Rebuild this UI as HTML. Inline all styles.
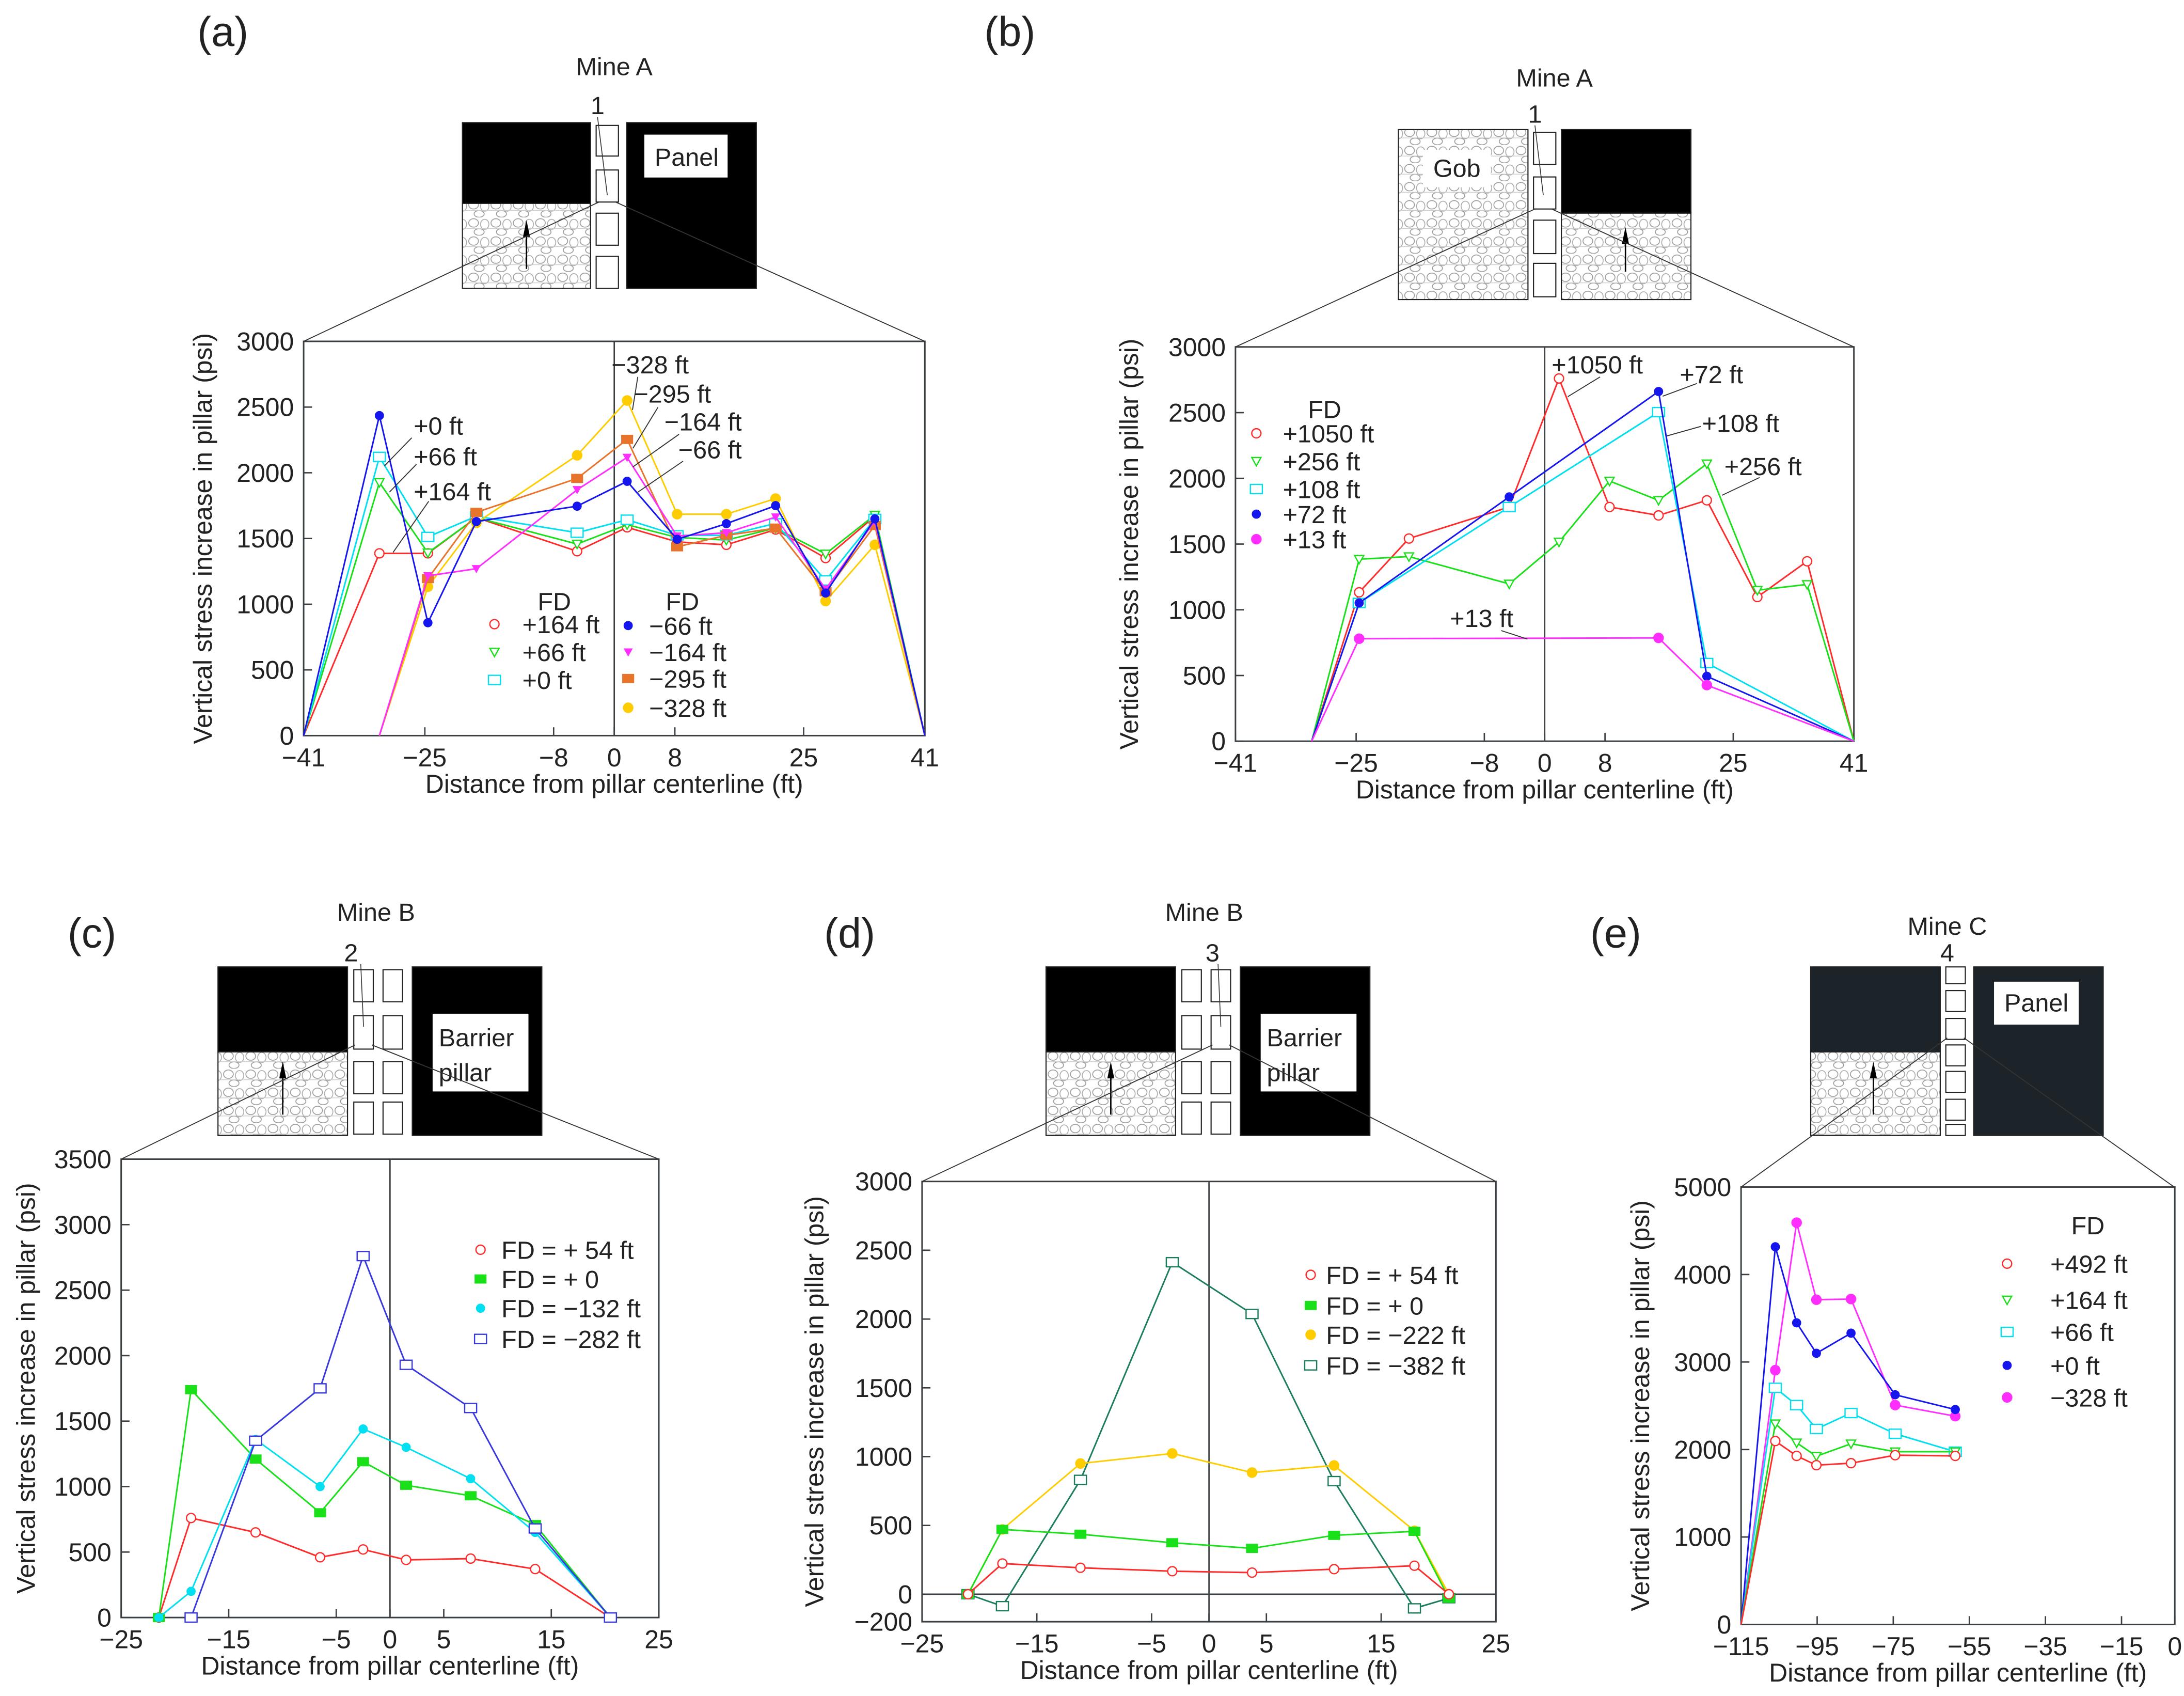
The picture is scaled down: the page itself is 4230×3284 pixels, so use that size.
<!DOCTYPE html>
<html><head><meta charset="utf-8"><style>
html,body{margin:0;padding:0;background:#fff;}
svg{display:block;}
text{font-family:"Liberation Sans",Arial,sans-serif;fill:#222;}
</style></head><body>
<svg id="fig" xmlns="http://www.w3.org/2000/svg" width="4230" height="3284" viewBox="0 0 1568 1217.3">
<defs>
<pattern id="gob" width="16" height="13" patternUnits="userSpaceOnUse">
<rect width="16" height="13" fill="#fff"/>
<ellipse cx="4" cy="4" rx="3.5" ry="3" fill="none" stroke="#999" stroke-width="0.6"/>
<ellipse cx="12" cy="5" rx="3" ry="3.6" fill="none" stroke="#aaa" stroke-width="0.6"/>
<ellipse cx="8" cy="10.5" rx="3.6" ry="2.4" fill="none" stroke="#999" stroke-width="0.6"/>
<line x1="0" y1="8" x2="16" y2="8" stroke="#ccc" stroke-width="0.5"/>
</pattern>
</defs>
</svg>
<script>
// ---------- Panel (a) data ----------
const aX = [-41,-31,-24.6,-18.2,-4.9,1.7,8.3,14.8,21.3,27.9,34.4,41];
const aXlate = [-31,-24.6,-18.2,-4.9,1.7,8.3,14.8,21.3,27.9,34.4,41];
const aP164 = [0,1387,1387,1659,1403,1585,1474,1452,1568,1351,1669,0];
const aP66 = [0,1927,1391,1659,1458,1605,1508,1488,1579,1383,1679,0];
const aP0 = [0,2121,1512,1669,1544,1643,1524,1524,1615,1181,1649,0];
const aM66 = [0,2435,859,1629,1746,1935,1494,1613,1750,1085,1649,0];
const aM164 = [0,1216,1270,1871,2117,1518,1544,1663,1115,1633,0];
const aM295 = [0,1195,1699,1957,2254,1437,1524,1579,1095,1599,0];
const aM328 = [0,1133,1619,2133,2550,1685,1685,1804,1024,1452,0];
const abXTicks = [-41,-25,-8,0,8,25,41];
const abYTicks = [0,500,1000,1500,2000,2500,3000];
// ---------- Panel (b) data ----------
const bX = [-30.9,-24.6,-18,-4.7,1.9,8.6,15.1,21.5,28.2,34.8,41];
const b1050 = [0,1133,1542,1782,2760,1782,1718,1833,1097,1369,0];
const b256 = [0,1385,1405,1197,1516,1980,1833,2111,1149,1193,0];
const b108X = [-30.9,-24.6,-4.7,15.1,21.5,41];
const b108 = [0,1052,1782,2504,595,0];
const b72 = [0,1052,1859,2661,494,0];
const b13X = [-30.9,-24.6,15.1,21.5,41];
const b13 = [0,780,786,427,0];
// ---------- Panel (c) data ----------
const cX = [-21.5,-18.5,-12.5,-6.5,-2.5,1.5,7.5,13.5,20.5];
const c54 = [0,760,650,460,520,440,450,370,0];
const c0 = [0,1740,1210,800,1190,1010,930,710,0];
const c132 = [0,200,1360,1000,1440,1300,1060,650,0];
const c282X = [-18.5,-12.5,-6.5,-2.5,1.5,7.5,13.5,20.5];
const c282 = [0,1350,1750,2760,1930,1600,680,0];
const cdXTicks = [-25,-15,-5,0,5,15,25];
const cYTicks = [0,500,1000,1500,2000,2500,3000,3500];
// ---------- Panel (d) data ----------
const dX = [-21,-18,-11.2,-3.2,3.75,10.9,17.9,20.9];
const d54 = [0,223,192,167,157,182,207,0];
const d0 = [0,471,436,374,333,428,457,-29];
const d222 = [0,471,950,1023,884,936,461,0];
const d382 = [0,-87,831,2413,2037,822,-103,-29];
const dYTicks = [-200,0,500,1000,1500,2000,2500,3000];
// ---------- Panel (e) data ----------
const eX = [-115,-106,-100.4,-95.2,-86.1,-74.5,-58.7];
const e492 = [0,2097,1927,1821,1844,1935,1927];
const e164 = [0,2295,2077,1923,2066,1975,1975];
const e66 = [0,2705,2508,2235,2417,2180,1975];
const e0 = [0,4317,3448,3100,3330,2626,2457];
const e328 = [0,2907,4593,3712,3720,2508,2381];
const eXTicks = [-115,-95,-75,-55,-35,-15,-1];
const eXLabels = ["−115","−95","−75","−55","−35","−15","0"];
const eYTicks = [0,1000,2000,3000,4000,5000];

const NS = 'http://www.w3.org/2000/svg';
const svg = document.getElementById('fig');
function mk(tag, attrs, parent){
  const e = document.createElementNS(NS, tag);
  for (const k in attrs) e.setAttribute(k, attrs[k]);
  (parent||svg).appendChild(e);
  return e;
}
function txt(parent, x, y, s, size, anchor){
  const t = mk('text', {x:x, y:y, 'font-size':size||18, 'text-anchor':anchor||'start'}, parent);
  t.textContent = s;
  return t;
}
function fmt(v){ return v<0 ? '−'+Math.abs(v) : String(v); }

function marker(g, type, x, y, color){
  const r = 3.3;
  let m;
  if (type==='circleOpen') m = mk('circle',{cx:x,cy:y,r:r,fill:'#fff',stroke:color,'stroke-width':0.9},g);
  else if (type==='triOpen') m = mk('polygon',{points:`${x-r},${y-r*0.8} ${x+r},${y-r*0.8} ${x},${y+r}`,fill:'#fff',stroke:color,'stroke-width':0.9},g);
  else if (type==='triFill') m = mk('polygon',{points:`${x-r},${y-r*0.8} ${x+r},${y-r*0.8} ${x},${y+r}`,fill:color},g);
  else if (type==='squareOpen') m = mk('rect',{x:x-r*1.3,y:y-r,width:r*2.6,height:r*2,fill:'#fff',stroke:color,'stroke-width':0.9},g);
  else if (type==='squareFill') m = mk('rect',{x:x-r*1.3,y:y-r,width:r*2.6,height:r*2,fill:color},g);
  else if (type==='hexFill') m = mk('circle',{cx:x,cy:y,r:r*1.15,fill:color},g);
  else m = mk('circle',{cx:x,cy:y,r:r,fill:color},g);
  
  
  return m;
}

function chart(cfg){
  const g = mk('g', {});
  
  
  const sx = v => cfg.L + (v-cfg.xmin)/(cfg.xmax-cfg.xmin)*(cfg.R-cfg.L);
  const sy = v => cfg.B - (v-cfg.ymin)/(cfg.ymax-cfg.ymin)*(cfg.B-cfg.T);
  const frame = mk('rect',{x:cfg.L,y:cfg.T,width:cfg.R-cfg.L,height:cfg.B-cfg.T,fill:'none',stroke:'#3a3f44','stroke-width':1.1},g);
  
  
  if (cfg.vzero){
    const vz = mk('line',{x1:sx(0),x2:sx(0),y1:cfg.T,y2:cfg.B,stroke:'#3a3f44','stroke-width':1},g);
    
    
  }
  if (cfg.hzero){
    const hz = mk('line',{x1:cfg.L,x2:cfg.R,y1:sy(0),y2:sy(0),stroke:'#3a3f44','stroke-width':1},g);
    
    
  }
  cfg.xticks.forEach((v,i)=>{
    const x = sx(v);
    mk('line',{x1:x,x2:x,y1:cfg.B,y2:cfg.B-6,stroke:'#3a3f44','stroke-width':1},g);
    const t = txt(g, x, cfg.B+22, cfg.xlabels ? cfg.xlabels[i] : fmt(v), 18.5, 'middle');
    
    
  });
  cfg.yticks.forEach(v=>{
    const y = sy(v);
    mk('line',{x1:cfg.L,x2:cfg.L+6,y1:y,y2:y,stroke:'#3a3f44','stroke-width':1},g);
    const t = txt(g, cfg.L-7, y+6.5, fmt(v), 18.5, 'end');
    
    
  });
  const xt = txt(g, (cfg.L+cfg.R)/2 + (cfg.xtOff||0), cfg.B+41, 'Distance from pillar centerline (ft)', 18.5, 'middle');
  
  
  const yt = txt(g, 0, 0, 'Vertical stress increase in pillar (psi)', 18.5, 'middle');
  yt.setAttribute('transform', `translate(${cfg.ytx},${(cfg.T+cfg.B)/2}) rotate(-90)`);
  
  
  cfg.series.forEach(s=>{
    const sg = mk('g',{},g);
    
    
    const pts = s.xs.map((x,i)=>sx(x)+','+sy(s.ys[i])).join(' ');
    const pl = mk('polyline',{points:pts,fill:'none',stroke:s.color,'stroke-width':1.1},sg);
    
    
    s.xs.forEach((x,i)=>{
      const endZero = (i===0 || i===s.xs.length-1) && s.ys[i]===0;
      if (cfg.markEnds || !endZero) marker(sg, s.marker, sx(x), sy(s.ys[i]), s.color);
    });
  });
  return g;
}

const RED='#ff2a2a', GRN='#19e019', CYN='#00e0f0', BLU='#1515ee', MAG='#ff2eff', ORG='#e8742c', YEL='#ffcc00', DKG='#1b7d5e';

chart({name:'chart-a',L:218,R:664,T:245,B:528,xmin:-41,xmax:41,ymin:0,ymax:3000,xticks:abXTicks,yticks:abYTicks,vzero:true,ytx:152,
 series:[
  {id:'fd-plus164',xs:aX,ys:aP164,color:RED,marker:'circleOpen'},
  {id:'fd-plus66',xs:aX,ys:aP66,color:GRN,marker:'triOpen'},
  {id:'fd-0',xs:aX,ys:aP0,color:CYN,marker:'squareOpen'},
  {id:'fd-minus328',xs:aXlate,ys:aM328,color:YEL,marker:'hexFill'},
  {id:'fd-minus295',xs:aXlate,ys:aM295,color:ORG,marker:'squareFill'},
  {id:'fd-minus164',xs:aXlate,ys:aM164,color:MAG,marker:'triFill'},
  {id:'fd-minus66',xs:aX,ys:aM66,color:BLU,marker:'dot'}
 ]});
chart({name:'chart-b',L:887,R:1331,T:249,B:532,xmin:-41,xmax:41,ymin:0,ymax:3000,xticks:abXTicks,yticks:abYTicks,vzero:true,ytx:817,
 series:[
  {id:'fd-plus1050',xs:bX,ys:b1050,color:RED,marker:'circleOpen'},
  {id:'fd-plus256',xs:bX,ys:b256,color:GRN,marker:'triOpen'},
  {id:'fd-plus108',xs:b108X,ys:b108,color:CYN,marker:'squareOpen'},
  {id:'fd-plus72',xs:b108X,ys:b72,color:BLU,marker:'dot'},
  {id:'fd-plus13',xs:b13X,ys:b13,color:MAG,marker:'hexFill'}
 ]});
chart({name:'chart-c',L:87,R:473,T:832,B:1161,xmin:-25,xmax:25,ymin:0,ymax:3500,xticks:cdXTicks,yticks:cYTicks,vzero:true,markEnds:true,ytx:25,
 series:[
  {id:'fd-plus54',xs:cX,ys:c54,color:RED,marker:'circleOpen'},
  {id:'fd-0',xs:cX,ys:c0,color:GRN,marker:'squareFill'},
  {id:'fd-minus132',xs:cX,ys:c132,color:CYN,marker:'dot'},
  {id:'fd-minus282',xs:c282X,ys:c282,color:'#3838dd',marker:'squareOpen'}
 ]});
chart({name:'chart-d',L:662,R:1074,T:848,B:1164,xmin:-25,xmax:25,ymin:-200,ymax:3000,xticks:cdXTicks,yticks:dYTicks,vzero:true,hzero:true,markEnds:true,ytx:591,
 series:[
  {id:'fd-minus382',xs:dX,ys:d382,color:DKG,marker:'squareOpen'},
  {id:'fd-minus222',xs:dX,ys:d222,color:YEL,marker:'hexFill'},
  {id:'fd-0',xs:dX,ys:d0,color:GRN,marker:'squareFill'},
  {id:'fd-plus54',xs:dX,ys:d54,color:RED,marker:'circleOpen'}
 ]});
chart({name:'chart-e',L:1250,R:1561.4,T:852,B:1166,xmin:-115,xmax:-1,ymin:0,ymax:5000,xticks:eXTicks,xlabels:eXLabels,yticks:eYTicks,ytx:1184,
 series:[
  {id:'fd-minus328',xs:eX,ys:e328,color:MAG,marker:'hexFill'},
  {id:'fd-0',xs:eX,ys:e0,color:BLU,marker:'dot'},
  {id:'fd-plus66',xs:eX,ys:e66,color:CYN,marker:'squareOpen'},
  {id:'fd-plus164',xs:eX,ys:e164,color:GRN,marker:'triOpen'},
  {id:'fd-plus492',xs:eX,ys:e492,color:RED,marker:'circleOpen'}
 ]});

function legend(name, entries, mx, tx, title, titleX, titleY, size){
  const g = mk('g',{});
  
  
  if (title){
    const t = txt(g, titleX, titleY, title, size||18, 'middle');
    
    
  }
  entries.forEach(e=>{
    marker(g, e[1], mx, e[3], e[2]);
    const t = txt(g, tx, e[3]+6.5, e[0], size||18);
    
    
  });
}
legend('legend-a-left', [['+164 ft','circleOpen',RED,448],['+66 ft','triOpen',GRN,468],['+0 ft','squareOpen',CYN,488]], 355, 375, 'FD', 398, 438);
legend('legend-a-right', [['−66 ft','dot',BLU,449],['−164 ft','triFill',MAG,468],['−295 ft','squareFill',ORG,487],['−328 ft','hexFill',YEL,508]], 451, 466, 'FD', 490, 438);
legend('legend-b', [['+1050 ft','circleOpen',RED,311],['+256 ft','triOpen',GRN,331],['+108 ft','squareOpen',CYN,351],['+72 ft','dot',BLU,369],['+13 ft','hexFill',MAG,387]], 902, 921, 'FD', 951, 300);
legend('legend-c', [['FD = + 54 ft','circleOpen',RED,897],['FD = + 0','squareFill',GRN,918],['FD = −132 ft','dot',CYN,939],['FD = −282 ft','squareOpen','#3838dd',961]], 345, 360);
legend('legend-d', [['FD = + 54 ft','circleOpen',RED,915],['FD = + 0','squareFill',GRN,937],['FD = −222 ft','hexFill',YEL,958],['FD = −382 ft','squareOpen',DKG,980]], 941, 952);
legend('legend-e', [['+492 ft','circleOpen',RED,907],['+164 ft','triOpen',GRN,933],['+66 ft','squareOpen',CYN,956],['+0 ft','dot',BLU,980],['−328 ft','hexFill',MAG,1003]], 1441, 1472, 'FD', 1499, 886);

function ann(name, x, y, s, lx1, ly1, lx2, ly2){
  const g = mk('g',{});
  
  
  txt(g, x, y, s, 18);
  mk('line',{x1:lx1,y1:ly1,x2:lx2,y2:ly2,stroke:'#333','stroke-width':0.7},g);
}
ann('annotation-plus0', 297, 312, '+0 ft', 295.6,314.2,275.9,334.5);
ann('annotation-plus66', 297, 334, '+66 ft', 299,333.2,279.6,353.2);
ann('annotation-plus164', 297, 359, '+164 ft', 307.8,359.8,282.2,396.5);
ann('annotation-minus328', 439, 268, '−328 ft', 457.9,270.5,454.1,294.2);
ann('annotation-minus295', 455, 289, '−295 ft', 472.4,292.3,454.4,321.8);
ann('annotation-minus164', 477, 309, '−164 ft', 487.5,311.7,454.4,335.1);
ann('annotation-minus66', 487, 329, '−66 ft', 490.4,331,458,353.2);
ann('annotation-plus1050', 1114, 268, '+1050 ft', 1148.8,270.5,1125.6,284.7);
ann('annotation-plus72', 1206, 275, '+72 ft', 1218.3,275.2,1193.7,284.4);
ann('annotation-plus108', 1222, 310, '+108 ft', 1221.2,306,1196.6,312.9);
ann('annotation-plus256', 1238, 341, '+256 ft', 1263.3,342.7,1236.3,355.5);
ann('annotation-plus13', 1041, 450, '+13 ft', 1077.8,452.6,1096.6,458.7);

[['(a)',160,33],['(b)',725,33],['(c)',66,680],['(d)',610,680],['(e)',1160,680]].forEach(p=>{
  const t = txt(svg, p[1], p[2], p[0], 30, 'middle');
  
  
});

function rect(g,x,y,w,h,fill,stroke){ return mk('rect',{x:x,y:y,width:w,height:h,fill:fill,stroke:stroke||'#222','stroke-width':0.8},g); }
function arrow(g,x,y1,y2){
  mk('line',{x1:x,y1:y1,x2:x,y2:y2+6,stroke:'#000','stroke-width':1},g);
  mk('polygon',{points:`${x-2.5},${y2+12} ${x+2.5},${y2+12} ${x},${y2}`,fill:'#000'},g);
}
function schem(name){ const g = mk('g',{});   return g; }

let s = schem('schematic-a');
txt(s,441,54,'Mine A',18,'middle'); txt(s,429,82,'1',18,'middle');
rect(s,332,88,92,58,'#000'); rect(s,332,146,92,61,'url(#gob)');
[[90,112],[122,145],[153,176],[184,207]].forEach(r=>rect(s,428,r[0],16,r[1]-r[0],'#fff'));
rect(s,450,88,93,119,'#000'); rect(s,463,97,59,30,'#fff','#fff');
txt(s,493,119,'Panel',18,'middle');
arrow(s,378,193,158);
mk('line',{x1:429,y1:84,x2:436,y2:140,stroke:'#333','stroke-width':0.6},s);
mk('line',{x1:430,y1:145,x2:218,y2:245,stroke:'#333','stroke-width':0.7},s);
mk('line',{x1:442,y1:145,x2:664,y2:245,stroke:'#333','stroke-width':0.7},s);
s = schem('schematic-b');
txt(s,1116,62,'Mine A',18,'middle'); txt(s,1102,88,'1',18,'middle');
rect(s,1004,93,93,122,'url(#gob)'); rect(s,1022,108,48,26,'#fff','#fff');
txt(s,1046,127,'Gob',18,'middle');
[[95,118],[127,150],[158,182],[189,213]].forEach(r=>rect(s,1101,r[0],16,r[1]-r[0],'#fff'));
rect(s,1121,93,93,60,'#000'); rect(s,1121,153,93,62,'url(#gob)');
arrow(s,1167,195,163);
mk('line',{x1:1102,y1:90,x2:1108,y2:140,stroke:'#333','stroke-width':0.6},s);
mk('line',{x1:1102,y1:150,x2:887,y2:249,stroke:'#333','stroke-width':0.7},s);
mk('line',{x1:1114,y1:150,x2:1331,y2:249,stroke:'#333','stroke-width':0.7},s);
function mineB(name, dx, num, lineL, lineR, topY){
  const g = schem(name);
  txt(g,270+dx,661,'Mine B',18,'middle'); txt(g,252+dx+(num==='3'?24:0),690,num,18,'middle');
  rect(g,156.5+dx,694,93,61,'#000'); rect(g,156.5+dx,755,93,60,'url(#gob)');
  [[696,719],[729,753],[762,785],[791,814]].forEach(r=>{rect(g,254+dx,r[0],14,r[1]-r[0],'#fff'); rect(g,275+dx,r[0],14,r[1]-r[0],'#fff');});
  rect(g,296+dx,694,93,121,'#000'); rect(g,311+dx,728,68,55,'#fff','#fff');
  txt(g,315+dx,751,'Barrier',18); txt(g,315+dx,776,'pillar',18);
  arrow(g,203+dx,800,762);
  const px = num==='3' ? 282+dx : 261+dx;
  mk('line',{x1:px-2,y1:692,x2:px,y2:737,stroke:'#333','stroke-width':0.6},g);
  mk('line',{x1:px-6,y1:750,x2:lineL,y2:topY,stroke:'#333','stroke-width':0.7},g);
  mk('line',{x1:px+6,y1:750,x2:lineR,y2:topY,stroke:'#333','stroke-width':0.7},g);
}
mineB('schematic-c',0,'2',87,473,832);
mineB('schematic-d',594.5,'3',662,1074,848);
s = schem('schematic-e');
txt(s,1398,671,'Mine  C',18,'middle'); txt(s,1398,690,'4',18,'middle');
rect(s,1300,694,93,61,'#1c2329'); rect(s,1300,755,93,60,'url(#gob)');
[[694,706],[711,726],[731,746],[750,765],[769,784],[789,804],[807,815]].forEach(r=>rect(s,1397,r[0],14,r[1]-r[0],'#fff'));
rect(s,1417,694,93,121,'#1c2329'); rect(s,1432,705,60,30,'#fff','#fff');
txt(s,1462,726,'Panel',18,'middle');
arrow(s,1345,800,762);
mk('line',{x1:1398,y1:745,x2:1250,y2:852,stroke:'#333','stroke-width':0.7},s);
mk('line',{x1:1410,y1:745,x2:1561,y2:852,stroke:'#333','stroke-width':0.7},s);
</script>
</body></html>
